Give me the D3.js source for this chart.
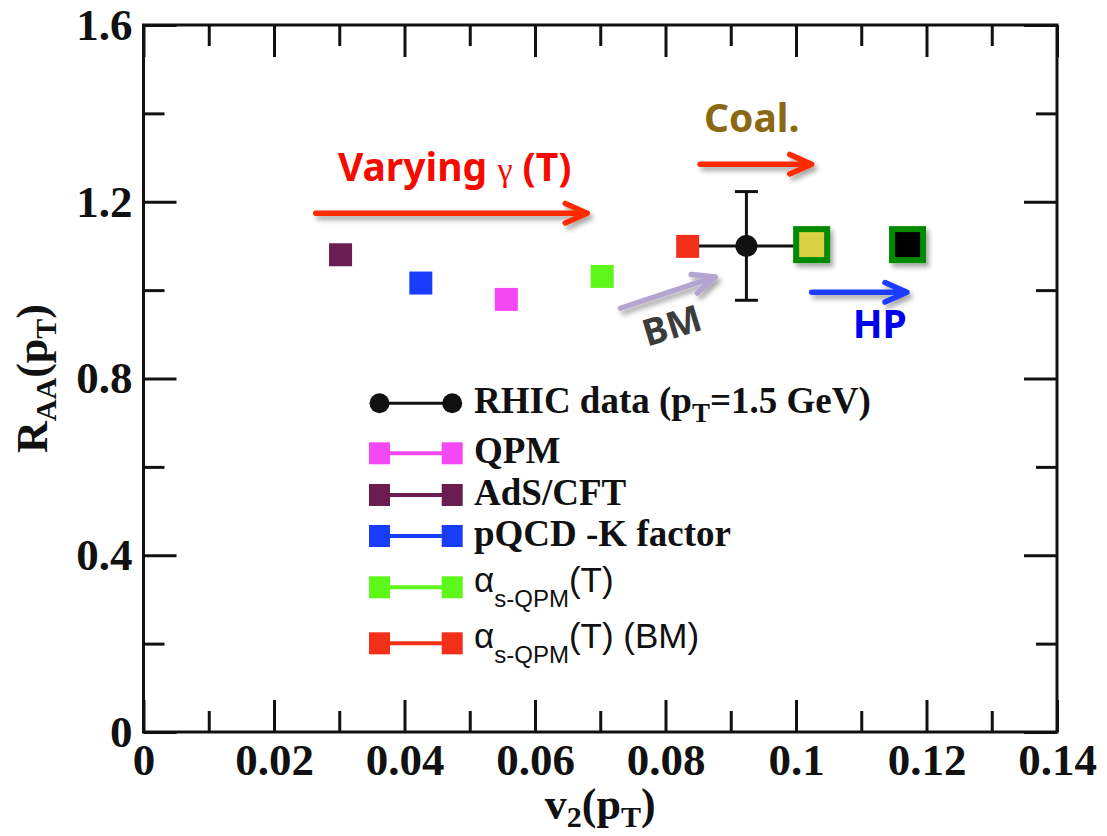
<!DOCTYPE html>
<html><head><meta charset="utf-8">
<script src="https://cdn.jsdelivr.net/npm/d3@7"></script>
<style>body{margin:0;background:#fff}</style>
</head><body><svg id="c" width="1107" height="836"></svg>
<script>
// ---- ticks ----
const xTicksMajor = [0, 0.02, 0.04, 0.06, 0.08, 0.10, 0.12, 0.14];
const xTickLabels = ["0", "0.02", "0.04", "0.06", "0.08", "0.1", "0.12", "0.14"];
const xTicksMinor = [0.01, 0.03, 0.05, 0.07, 0.09, 0.11, 0.13];
const yTicksMajor = [0, 0.4, 0.8, 1.2, 1.6];
const yTickLabels = ["0", "0.4", "0.8", "1.2", "1.6"];
const yTicksMinor = [0.2, 0.6, 1.0, 1.4];

// ---- model points ----
const modelNames = ["AdS/CFT", "pQCD -K factor", "QPM", "αs-QPM(T)", "αs-QPM(T) (BM)"];
const modelV2 = [0.0302, 0.0425, 0.0556, 0.0703, 0.0834];
const modelRAA = [1.080, 1.016, 0.979, 1.031, 1.099];
const modelColors = ["#6b1d52", "#1a3cfc", "#f548f5", "#5ef71a", "#f2301a"];

// ---- RHIC data ----
const rhicV2 = [0.0924];
const rhicRAA = [1.100];
const rhicRAAErr = [0.123];
const rhicV2Err = [0.0085];

// ---- extrapolated points (Coal., HP) ----
const extrapV2 = [0.1024, 0.1171];
const extrapRAA = [1.103, 1.103];
const extrapFill = ["#d9d043", "#000000"];

// ---- annotation arrows ----
const arrowX1 = [0.0264, 0.0853, 0.0731, 0.1024];
const arrowY1 = [1.174, 1.285, 0.959, 0.995];
const arrowX2 = [0.0680, 0.1024, 0.0876, 0.1170];
const arrowY2 = [1.174, 1.285, 1.030, 0.995];
const arrowColors = ["#ff2a00", "#ff2a00", "#b4a4d0", "#1a3cff"];

// ---- legend ----
const legendNames = ["RHIC data (pT=1.5 GeV)", "QPM", "AdS/CFT", "pQCD -K factor", "αs-QPM(T)", "αs-QPM(T) (BM)"];
const legendColors = ["#111111", "#f548f5", "#6b1d52", "#1a3cfc", "#5ef71a", "#f2301a"];

// ================= drawing =================
const svg = d3.select("#c");
svg.append("rect").attr("width", 1107).attr("height", 836).attr("fill", "#fff");

const defs = svg.append("defs");
const f = defs.append("filter").attr("id", "sh").attr("x", "-30%").attr("y", "-50%").attr("width", "160%").attr("height", "200%");
f.append("feDropShadow").attr("dx", 3).attr("dy", 4).attr("stdDeviation", 2.5)
  .attr("flood-color", "#000").attr("flood-opacity", 0.35);

const L = 143.5, R = 1057, T = 25, B = 732;
const x = d3.scaleLinear().domain([0, 0.14]).range([L, R]);
const y = d3.scaleLinear().domain([0, 1.6]).range([B, T]);

const serif = "'Liberation Serif','Times New Roman',serif";
const sans = "'Liberation Sans',Arial,sans-serif";
const ann = "'Noto Sans','DejaVu Sans',sans-serif";
const axisCol = "#111";

function styleAxis(g) {
  g.select(".domain").remove();
  g.selectAll(".tick line").attr("stroke", axisCol).attr("stroke-width", 3);
  g.selectAll("text").attr("font-family", serif).attr("font-weight", "bold")
    .attr("font-size", 45).attr("fill", axisCol);
}

// bottom
svg.append("g").attr("transform", `translate(0,${B})`)
  .call(d3.axisBottom(x).tickValues(xTicksMajor).tickSizeInner(-32).tickSizeOuter(0).tickPadding(11)
    .tickFormat((d, i) => xTickLabels[i])).call(styleAxis);
svg.append("g").attr("transform", `translate(0,${B})`)
  .call(d3.axisBottom(x).tickValues(xTicksMinor).tickSizeInner(-21).tickSizeOuter(0).tickFormat(""))
  .call(styleAxis);
// top
svg.append("g").attr("transform", `translate(0,${T})`)
  .call(d3.axisTop(x).tickValues(xTicksMajor).tickSizeInner(-32).tickSizeOuter(0).tickFormat("")).call(styleAxis);
svg.append("g").attr("transform", `translate(0,${T})`)
  .call(d3.axisTop(x).tickValues(xTicksMinor).tickSizeInner(-21).tickSizeOuter(0).tickFormat("")).call(styleAxis);
// left
svg.append("g").attr("transform", `translate(${L},0)`)
  .call(d3.axisLeft(y).tickValues(yTicksMajor).tickSizeInner(-33).tickSizeOuter(0).tickPadding(11)
    .tickFormat((d, i) => yTickLabels[i])).call(styleAxis);
svg.append("g").attr("transform", `translate(${L},0)`)
  .call(d3.axisLeft(y).tickValues(yTicksMinor).tickSizeInner(-21).tickSizeOuter(0).tickFormat("")).call(styleAxis);
// right
svg.append("g").attr("transform", `translate(${R},0)`)
  .call(d3.axisRight(y).tickValues(yTicksMajor).tickSizeInner(-33).tickSizeOuter(0).tickFormat("")).call(styleAxis);
svg.append("g").attr("transform", `translate(${R},0)`)
  .call(d3.axisRight(y).tickValues(yTicksMinor).tickSizeInner(-21).tickSizeOuter(0).tickFormat("")).call(styleAxis);

// frame
svg.append("rect").attr("x", L).attr("y", T).attr("width", R - L).attr("height", B - T)
  .attr("fill", "none").attr("stroke", axisCol).attr("stroke-width", 3);

// axis titles
const xt = svg.append("text").attr("x", (L + R) / 2).attr("y", 819).attr("text-anchor", "middle")
  .attr("font-family", serif).attr("font-weight", "bold").attr("font-size", 44).attr("fill", axisCol);
xt.append("tspan").text("v");
xt.append("tspan").attr("font-size", 30).attr("dy", 8).text("2");
xt.append("tspan").attr("dy", -8).text("(p");
xt.append("tspan").attr("font-size", 30).attr("dy", 8).text("T");
xt.append("tspan").attr("dy", -8).text(")");

const yt = svg.append("text").attr("transform", `translate(47,${(T + B) / 2}) rotate(-90)`)
  .attr("text-anchor", "middle")
  .attr("font-family", serif).attr("font-weight", "bold").attr("font-size", 44).attr("fill", axisCol);
yt.append("tspan").text("R");
yt.append("tspan").attr("font-size", 30).attr("dy", 9).text("AA");
yt.append("tspan").attr("dy", -9).text("(p");
yt.append("tspan").attr("font-size", 30).attr("dy", 9).text("T");
yt.append("tspan").attr("dy", -9).text(")");

// ---- arrows ----
function arrow(x1, y1, x2, y2, col) {
  const a = Math.atan2(y2 - y1, x2 - x1), hl = 24, sp = 24 * Math.PI / 180;
  const p1 = [x2 - hl * Math.cos(a - sp), y2 - hl * Math.sin(a - sp)];
  const p2 = [x2 - hl * Math.cos(a + sp), y2 - hl * Math.sin(a + sp)];
  svg.append("path")
    .attr("d", `M${x1},${y1}L${x2},${y2}M${p1[0]},${p1[1]}L${x2},${y2}L${p2[0]},${p2[1]}`)
    .attr("fill", "none").attr("stroke", col).attr("stroke-width", 5.5)
    .attr("stroke-linecap", "round").attr("stroke-linejoin", "round").attr("filter", "url(#sh)");
}
arrowX1.forEach((d, i) => arrow(x(arrowX1[i]), y(arrowY1[i]), x(arrowX2[i]), y(arrowY2[i]), arrowColors[i]));

// annotation texts
const vt = svg.append("text").attr("x", x(0.0298)).attr("y", y(1.2476))
  .attr("font-family", ann).attr("font-weight", "bold").attr("font-size", 39).attr("fill", "#f50a00");
vt.append("tspan").text("Varying ");
vt.append("tspan").attr("font-family", serif).attr("font-weight", "normal").attr("font-size", 34).text("γ");
vt.append("tspan").text(" (T)");

svg.append("text").attr("x", x(0.0859)).attr("y", y(1.3585))
  .attr("font-family", ann).attr("font-weight", "bold").attr("font-size", 39).attr("fill", "#8b6914").text("Coal.");
svg.append("text").attr("x", x(0.1087)).attr("y", y(0.8907))
  .attr("font-family", ann).attr("font-weight", "bold").attr("font-size", 39).attr("fill", "#0000ee").text("HP");
svg.append("text").attr("transform", `translate(${x(0.08156)},${y(0.9209) + 13}) rotate(-17)`)
  .attr("text-anchor", "middle")
  .attr("font-family", ann).attr("font-weight", "bold").attr("font-size", 37).attr("fill", "#3c3c3c").text("BM");

// ---- RHIC data point with error bars ----
const g = svg.append("g");
rhicV2.forEach((v, i) => {
  g.append("line").attr("x1", x(v - rhicV2Err[i])).attr("x2", x(v + rhicV2Err[i]))
    .attr("y1", y(rhicRAA[i])).attr("y2", y(rhicRAA[i])).attr("stroke", "#111").attr("stroke-width", 3);
  g.append("line").attr("x1", x(v)).attr("x2", x(v))
    .attr("y1", y(rhicRAA[i] - rhicRAAErr[i])).attr("y2", y(rhicRAA[i] + rhicRAAErr[i]))
    .attr("stroke", "#111").attr("stroke-width", 3);
  [rhicRAA[i] - rhicRAAErr[i], rhicRAA[i] + rhicRAAErr[i]].forEach(e => {
    g.append("line").attr("x1", x(v) - 11.5).attr("x2", x(v) + 11.5).attr("y1", y(e)).attr("y2", y(e))
      .attr("stroke", "#111").attr("stroke-width", 3);
  });
  g.append("circle").attr("cx", x(v)).attr("cy", y(rhicRAA[i])).attr("r", 11).attr("fill", "#111");
});

// model squares
modelV2.forEach((v, i) => {
  svg.append("rect").attr("x", x(v) - 11.5).attr("y", y(modelRAA[i]) - 11.5)
    .attr("width", 23).attr("height", 23).attr("fill", modelColors[i]);
});

// extrapolated squares
extrapV2.forEach((v, i) => {
  svg.append("rect").attr("x", x(v) - 15.5).attr("y", y(extrapRAA[i]) - 15.5)
    .attr("width", 31).attr("height", 31).attr("fill", extrapFill[i])
    .attr("stroke", "#008a00").attr("stroke-width", 6).attr("filter", "url(#sh)");
});

// ---- legend ----
const legY = [403.3, 453.3, 495, 536, 587.3, 643.3];
const lx1 = 379.5, lx2 = 452.2, tx = 474;
legendNames.forEach((n, i) => {
  const cy = legY[i], c = legendColors[i];
  svg.append("line").attr("x1", lx1).attr("x2", lx2).attr("y1", cy).attr("y2", cy)
    .attr("stroke", c).attr("stroke-width", i === 0 ? 3 : 4);
  [lx1, lx2].forEach(cx => {
    if (i === 0) svg.append("circle").attr("cx", cx).attr("cy", cy).attr("r", 10).attr("fill", c);
    else svg.append("rect").attr("x", cx - 10.5).attr("y", cy - 11).attr("width", 21).attr("height", 22).attr("fill", c);
  });
});
function serifText(i) {
  return svg.append("text").attr("x", tx).attr("y", legY[i] + 9.5)
    .attr("font-family", serif).attr("font-weight", "bold").attr("font-size", 37).attr("fill", "#111");
}
const r0 = serifText(0);
r0.append("tspan").text("RHIC data (p");
r0.append("tspan").attr("font-size", 27).attr("dy", 9).text("T");
r0.append("tspan").attr("dy", -9).text("=1.5 GeV)");
serifText(1).text(legendNames[1]);
serifText(2).text(legendNames[2]);
serifText(3).text(legendNames[3]);
function alphaLabel(i, tail) {
  const t = svg.append("text").attr("x", tx).attr("y", legY[i] + 5)
    .attr("font-family", sans).attr("font-size", 35).attr("fill", "#111");
  t.append("tspan").text("α");
  t.append("tspan").attr("font-size", 24).attr("dy", 15).text("s-QPM");
  t.append("tspan").attr("dy", -15).text(tail);
}
alphaLabel(4, "(T)");
alphaLabel(5, "(T) (BM)");
</script>
</body></html>
